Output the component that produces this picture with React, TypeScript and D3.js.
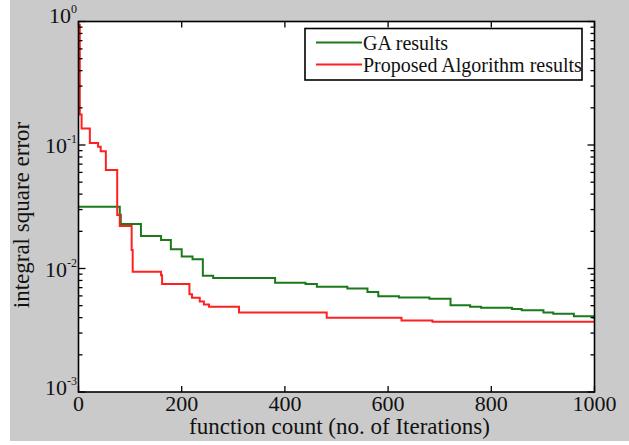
import React, { useRef, useEffect } from 'react';
import * as d3 from 'd3';

// GA results (step values)
const gaX = [0, 80, 82, 121, 160, 179, 200, 221, 241, 261, 381, 440, 462, 521, 560, 581, 621, 680, 721, 759, 780, 840, 859, 901, 920, 960, 998, 1000];
const gaY = [0.0316, 0.0272, 0.0229, 0.0183, 0.017, 0.0143, 0.0125, 0.0119, 0.00875, 0.00838, 0.00765, 0.0075, 0.00713, 0.0069, 0.00644, 0.00597, 0.00582, 0.00568, 0.00503, 0.0049, 0.00482, 0.0047, 0.00459, 0.00441, 0.00431, 0.0041, 0.004, 0.004];

// Proposed Algorithm results
const paX = [0, 2.5, 6, 22, 38, 43, 53, 75, 80, 103, 105, 160, 162, 215, 220, 235, 243, 253, 311, 481, 626, 686, 1000];
const paY = [0.94, 0.177, 0.136, 0.104, 0.097, 0.089, 0.0628, 0.0271, 0.0221, 0.0141, 0.0094, 0.0088, 0.0075, 0.0062, 0.0058, 0.0054, 0.0051, 0.0049, 0.0044, 0.004, 0.0038, 0.0037, 0.0037];

const xTicks = [0, 200, 400, 600, 800, 1000];
const yExps = [0, -1, -2, -3];
const legendLabels = ['GA results', 'Proposed Algorithm results'];

const App = () => {
  const ref = useRef(null);

  useEffect(() => {
    if (!ref.current) return;
    d3.select(ref.current).selectAll('*').remove();

    const W = 629, H = 445;
    const left = 78.5, right = 594.5, top = 21.5, bottom = 392;
    const font = '"Liberation Serif", "Times New Roman", serif';

    const svg = d3.select(ref.current)
      .attr('width', W)
      .attr('height', H)
      .style('position', 'absolute')
      .style('left', '0px')
      .style('top', '0px');

    svg.append('rect').attr('width', W).attr('height', H).attr('fill', '#ffffff');
    svg.append('rect').attr('x', 10).attr('y', 0).attr('width', W - 10).attr('height', 441).attr('fill', '#cacaca');

    const x = d3.scaleLinear().domain([0, 1000]).range([left, right]);
    const y = d3.scaleLog().domain([1e-3, 1]).range([bottom, top]);

    svg.append('rect')
      .attr('x', left).attr('y', top)
      .attr('width', right - left).attr('height', bottom - top)
      .attr('fill', '#ffffff');

    svg.append('clipPath').attr('id', 'plotclip')
      .append('rect')
      .attr('x', left).attr('y', top)
      .attr('width', right - left).attr('height', bottom - top);

    const step = d3.line().curve(d3.curveStepAfter);
    const gaPts = gaX.map((d, i) => [x(d), y(gaY[i])] as [number, number]);
    const paPts = paX.map((d, i) => [x(d), y(paY[i])] as [number, number]);

    const g = svg.append('g').attr('clip-path', 'url(#plotclip)');
    g.append('path')
      .attr('d', step(gaPts))
      .attr('fill', 'none')
      .attr('stroke', '#1a7a1a')
      .attr('stroke-width', 2);
    g.append('path')
      .attr('d', step(paPts))
      .attr('fill', 'none')
      .attr('stroke', '#ff2020')
      .attr('stroke-width', 2);

    // ticks
    const ticks = svg.append('g').attr('stroke', '#000').attr('stroke-width', 1.3);
    xTicks.forEach(t => {
      ticks.append('line').attr('x1', x(t)).attr('x2', x(t)).attr('y1', bottom).attr('y2', bottom - 6);
      ticks.append('line').attr('x1', x(t)).attr('x2', x(t)).attr('y1', top).attr('y2', top + 6);
    });
    yExps.forEach(e => {
      const v = Math.pow(10, e);
      ticks.append('line').attr('x1', left).attr('x2', left + 7).attr('y1', y(v)).attr('y2', y(v));
      ticks.append('line').attr('x1', right).attr('x2', right - 7).attr('y1', y(v)).attr('y2', y(v));
      if (e < 0) {
        for (let m = 2; m <= 9; m++) {
          const mv = m * v;
          ticks.append('line').attr('x1', left).attr('x2', left + 4).attr('y1', y(mv)).attr('y2', y(mv));
          ticks.append('line').attr('x1', right).attr('x2', right - 4).attr('y1', y(mv)).attr('y2', y(mv));
        }
      }
    });

    // box
    svg.append('rect')
      .attr('x', left).attr('y', top)
      .attr('width', right - left).attr('height', bottom - top)
      .attr('fill', 'none')
      .attr('stroke', '#000')
      .attr('stroke-width', 1.6);

    // x tick labels
    xTicks.forEach(t => {
      svg.append('text')
        .attr('x', x(t)).attr('y', 411)
        .attr('text-anchor', 'middle')
        .attr('font-family', font)
        .attr('font-size', 22)
        .attr('fill', '#111')
        .text(t);
    });

    // y tick labels
    yExps.forEach((e, i) => {
      const nudge = i === 0 ? -7 : i === yExps.length - 1 ? -5 : 0;
      const t = svg.append('text')
        .attr('x', 77).attr('y', y(Math.pow(10, e)) + 8 + nudge)
        .attr('text-anchor', 'end')
        .attr('font-family', font)
        .attr('font-size', 22)
        .attr('fill', '#111');
      t.append('tspan').text('10');
      t.append('tspan').attr('dy', -10).attr('font-size', 12).text(String(e));
    });

    // axis labels
    svg.append('text')
      .attr('x', (left + right) / 2 + 3).attr('y', 434)
      .attr('text-anchor', 'middle')
      .attr('font-family', font)
      .attr('font-size', 23)
      .attr('fill', '#111')
      .text('function count (no. of Iterations)');

    svg.append('text')
      .attr('transform', 'translate(29,215) rotate(-90)')
      .attr('text-anchor', 'middle')
      .attr('font-family', font)
      .attr('font-size', 23)
      .attr('fill', '#111')
      .text('integral square error');

    // legend
    const lg = svg.append('g');
    lg.append('rect')
      .attr('x', 305).attr('y', 28.5)
      .attr('width', 277).attr('height', 51.5)
      .attr('fill', '#ffffff')
      .attr('stroke', '#000')
      .attr('stroke-width', 1.6);
    const colors = ['#1a7a1a', '#ff2020'];
    legendLabels.forEach((lab, i) => {
      const ly = 42.5 + i * 22;
      lg.append('line')
        .attr('x1', 316).attr('x2', 362)
        .attr('y1', ly).attr('y2', ly)
        .attr('stroke', colors[i]).attr('stroke-width', 2);
      lg.append('text')
        .attr('x', 363).attr('y', ly + 7)
        .attr('font-family', font)
        .attr('font-size', 20)
        .attr('fill', '#111')
        .text(lab);
    });
  }, []);

  return <svg ref={ref}></svg>;
};

export default App;
